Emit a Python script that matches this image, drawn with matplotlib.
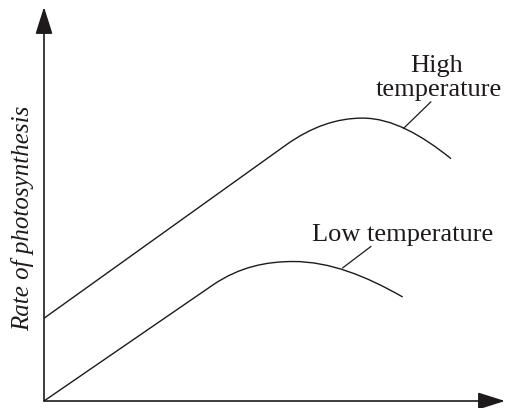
import matplotlib
matplotlib.use("Agg")
import matplotlib.pyplot as plt
from matplotlib.path import Path
from matplotlib.patches import PathPatch

# ---- data (arbitrary units: light intensity 0-100, rate 0-100) ----
# High temperature: straight rise, then a smooth peak and decline
high_start = (0.0, 21.0)
high_knee = (52.4, 64.9)
high_ctrl_a = (58.0, 69.6)
high_ctrl_b = (63.5, 71.8)
high_peak = (69.1, 71.8)
high_ctrl_c = (75.5, 71.8)
high_ctrl_d = (81.9, 67.5)
high_end = (88.3, 61.5)

# Low temperature
low_start = (0.0, 0.0)
low_knee = (36.7, 29.5)
low_ctrl_a = (42.5, 34.1)
low_ctrl_b = (48.3, 35.4)
low_peak = (54.1, 35.4)
low_ctrl_c = (62.0, 35.4)
low_ctrl_d = (69.9, 31.7)
low_end = (77.8, 26.4)

label_texts = ["High", "temperature", "Low temperature"]
label_pos = [(85.2, 83.5), (85.6, 77.4), (77.7, 40.6)]
leader_high = [(78.0, 69.2), (83.9, 75.9)]
leader_low = [(64.8, 33.8), (70.9, 39.2)]
y_label = "Rate of photosynthesis"

INK = "#1e1a1b"

fig = plt.figure(figsize=(5.05, 4.08), dpi=100)
ax = fig.add_axes([44 / 505, 7 / 408, 461 / 505, 394 / 408])
ax.set_xlim(0, 100)
ax.set_ylim(0, 100)
ax.axis("off")

def curve(pts):
    codes = [Path.MOVETO, Path.LINETO,
             Path.CURVE4, Path.CURVE4, Path.CURVE4,
             Path.CURVE4, Path.CURVE4, Path.CURVE4]
    return PathPatch(Path(pts, codes), facecolor="none", edgecolor=INK, lw=1.0,
                     capstyle="butt", joinstyle="round")

ax.add_patch(curve([high_start, high_knee, high_ctrl_a, high_ctrl_b, high_peak,
                    high_ctrl_c, high_ctrl_d, high_end]))
ax.add_patch(curve([low_start, low_knee, low_ctrl_a, low_ctrl_b, low_peak,
                    low_ctrl_c, low_ctrl_d, low_end]))

for seg in (leader_high, leader_low):
    ax.plot([seg[0][0], seg[1][0]], [seg[0][1], seg[1][1]], color=INK, lw=0.9)

serif = ["Liberation Serif", "DejaVu Serif"]
for txt, (tx, ty) in zip(label_texts, label_pos):
    ax.text(tx, ty, txt, ha="center", va="baseline",
            fontsize=19, family=serif, color=INK)

# axes with arrows
arrow = dict(arrowstyle="-|>,head_length=1.2,head_width=0.38", color=INK, lw=1.2,
             shrinkA=0, shrinkB=0, mutation_scale=14)
ax.annotate("", xy=(1.0, 0.0), xytext=(0.0, 0.0), xycoords="axes fraction",
            textcoords="axes fraction", arrowprops=arrow, annotation_clip=False)
ax.annotate("", xy=(0.0, 1.0), xytext=(0.0, 0.0), xycoords="axes fraction",
            textcoords="axes fraction", arrowprops=arrow, annotation_clip=False)

fig.text(23 / 505, 1 - 218 / 408, y_label, rotation=90, ha="center", va="center",
         fontsize=18, family=serif, style="italic", color=INK)

fig.savefig("out.png", dpi=100)
